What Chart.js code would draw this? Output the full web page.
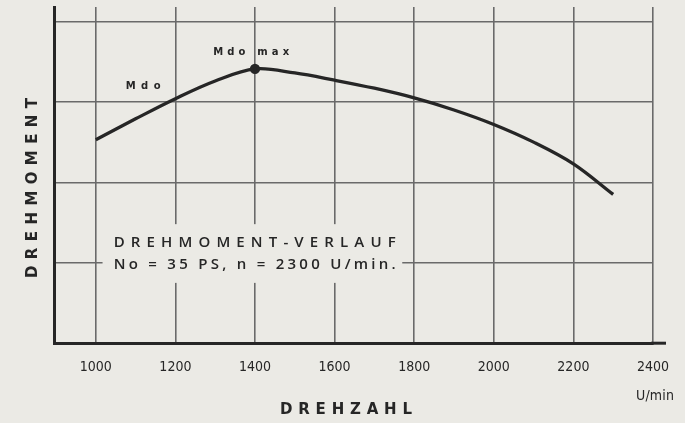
<!DOCTYPE html>
<html>
<head>
<meta charset="utf-8">
<script src="https://cdn.jsdelivr.net/npm/chart.js@4.4.1/dist/chart.umd.min.js"></script>
<style>
    html, body { margin: 0; padding: 0; background: #ebeae5; }
    #chart { display: block; }
</style>
</head>
<body>
<canvas id="chart" width="685" height="423"></canvas>
<script>
// Drehzahl (U/min) und Drehmoment (relative Einheiten, Gitterteilung = 1)
const rpm = [1000, 1100, 1200, 1300, 1400, 1500, 1600, 1700, 1800, 1900, 2000, 2100, 2200, 2300];
const torque = [2.53, 2.79, 3.04, 3.26, 3.41, 3.36, 3.27, 3.17, 3.05, 2.90, 2.72, 2.50, 2.23, 1.85];
const xTicks = [1000, 1200, 1400, 1600, 1800, 2000, 2200, 2400];
const yGrid = [0, 1, 2, 3, 4];
const peakRpm = 1400;

const ink = '#262626';
const bg = '#ebeae5';

// spread text so it fills a given width (old lettering look)
function spacedText(ctx, text, x, y, width, font, align) {
    ctx.save();
    ctx.font = font;
    ctx.letterSpacing = '0px';
    const w = ctx.measureText(text).width;
    const sp = text.length > 1 ? (width - w) / (text.length - 1) : 0;
    ctx.letterSpacing = sp + 'px';
    ctx.textBaseline = 'middle';
    ctx.textAlign = 'left';
    let left = x;
    if (align === 'center') left = x - width / 2;
    ctx.fillText(text, left, y);
    ctx.restore();
}

const labelsPlugin = {
    id: 'labels',
    beforeDatasetsDraw(chart) {
        const { ctx, scales: { x, y } } = chart;
        // blank box behind the caption
        ctx.save();
        ctx.fillStyle = bg;
        const x0 = x.getPixelForValue(1017), x1 = x.getPixelForValue(1770);
        const y0 = y.getPixelForValue(1.48), y1 = y.getPixelForValue(0.75);
        ctx.fillRect(x0, y0, x1 - x0, y1 - y0);
        ctx.restore();
    },
    afterDraw(chart) {
        const { ctx, chartArea, scales: { x, y } } = chart;
        ctx.save();
        ctx.fillStyle = ink;

        // bottom axis runs a little past the last grid line
        ctx.strokeStyle = ink;
        ctx.lineWidth = 3;
        ctx.beginPath();
        ctx.moveTo(chartArea.right - 2, chartArea.bottom);
        ctx.lineTo(chartArea.right + 13, chartArea.bottom);
        ctx.stroke();

        spacedText(ctx, 'DREHZAHL', 346, 410, 132, 'bold 15px "DejaVu Sans"', 'center');
        spacedText(ctx, 'U/min', 655, 396, 38, '14px "DejaVu Sans Condensed"', 'center');

        ctx.save();
        ctx.translate(33, 188);
        ctx.rotate(-Math.PI / 2);
        spacedText(ctx, 'DREHMOMENT', 0, 0, 180, 'bold 15px "DejaVu Sans"', 'center');
        ctx.restore();

        spacedText(ctx, 'Mdo', x.getPixelForValue(1075), y.getPixelForValue(3.19), 35, 'bold 10px "DejaVu Sans"');
        spacedText(ctx, 'Mdo max', x.getPixelForValue(1295), y.getPixelForValue(3.62), 76, 'bold 10px "DejaVu Sans"');

        spacedText(ctx, 'DREHMOMENT-VERLAUF', x.getPixelForValue(1045), y.getPixelForValue(1.25), 282, '600 15px "Open Sans"');
        spacedText(ctx, 'No = 35 PS, n = 2300 U/min.', x.getPixelForValue(1045), y.getPixelForValue(0.97), 282, '600 15px "Open Sans"');
        ctx.restore();
    }
};

new Chart(document.getElementById('chart').getContext('2d'), {
    type: 'line',
    data: {
        datasets: [{
            data: rpm.map((r, i) => ({ x: r, y: torque[i] })),
            borderColor: ink,
            backgroundColor: ink,
            borderWidth: 3.3,
            fill: false,
            tension: 0.35,
            pointRadius: rpm.map(r => r === peakRpm ? 3.5 : 0),
            pointHoverRadius: 0
        }]
    },
    options: {
        responsive: false,
        animation: false,
        layout: { padding: { left: 54, right: 32, top: 7, bottom: 31 } },
        plugins: {
            legend: { display: false },
            tooltip: { enabled: false }
        },
        scales: {
            x: {
                type: 'linear',
                min: 895,
                max: 2400,
                afterBuildTicks: (scale) => { scale.ticks = xTicks.map(v => ({ value: v })); },
                ticks: {
                    color: ink,
                    padding: 16,
                    font: { family: '"DejaVu Sans Condensed", "Liberation Sans Narrow", sans-serif', size: 14 },
                    callback: (v) => String(v)
                },
                grid: { color: '#6a6a6a', lineWidth: 1.6, drawTicks: false },
                border: { color: ink, width: 3 }
            },
            y: {
                min: 0,
                max: 4.18,
                afterBuildTicks: (scale) => { scale.ticks = yGrid.map(v => ({ value: v })); },
                ticks: { display: false },
                grid: { color: '#6a6a6a', lineWidth: 1.6, drawTicks: false },
                border: { color: ink, width: 3 }
            }
        }
    },
    plugins: [labelsPlugin]
});
</script>
</body>
</html>
